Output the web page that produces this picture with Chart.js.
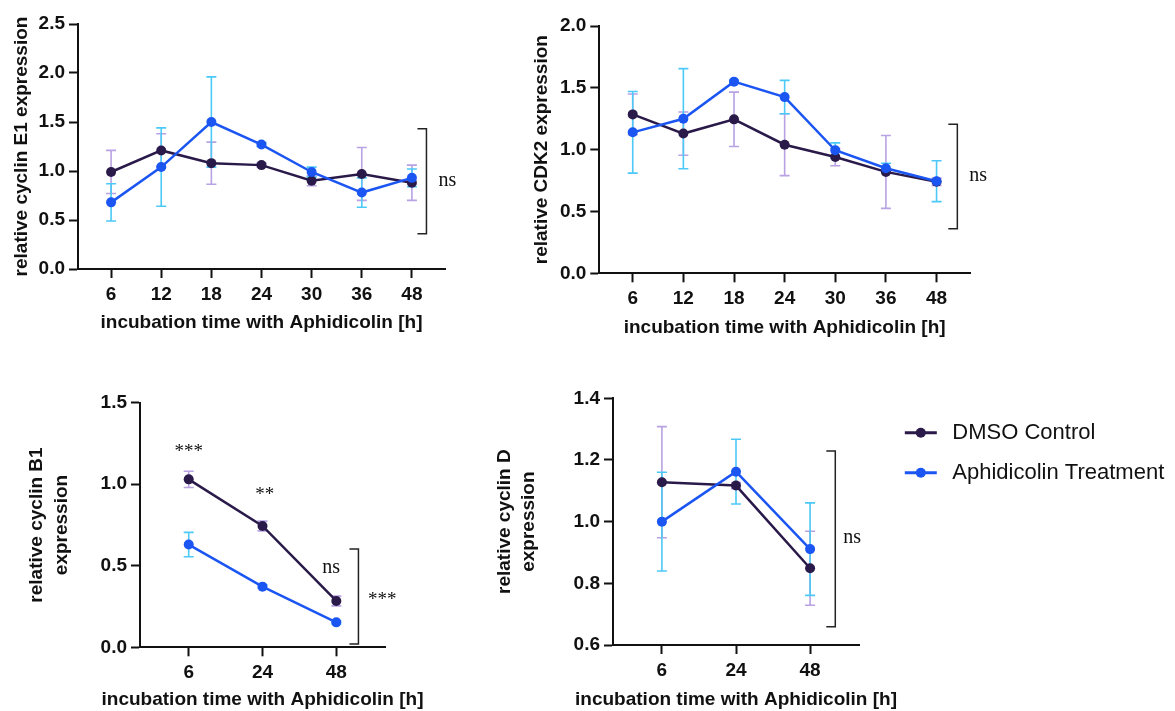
<!DOCTYPE html>
<html>
<head>
<meta charset="utf-8">
<script src="https://cdn.jsdelivr.net/npm/chart.js@4.4.1/dist/chart.umd.min.js"></script>
<style>
  body { margin: 0; background: #fff; }
  #wrap { position: relative; width: 1175px; height: 711px; overflow: hidden; }
  canvas { position: absolute; }
</style>
</head>
<body>
<div id="wrap">
  <canvas id="chartE1" width="470" height="340" style="left:0px;top:0px"></canvas>
  <canvas id="chartCdk2" width="500" height="345" style="left:500px;top:0px"></canvas>
  <canvas id="chartB1" width="480" height="341" style="left:0px;top:370px"></canvas>
  <canvas id="chartD" width="695" height="341" style="left:480px;top:370px"></canvas>
</div>
<script>
// Dati
const seriesNames = ['DMSO Control', 'Aphidicolin Treatment'];
const timesLong = ['6', '12', '18', '24', '30', '36', '48'];
const timesShort = ['6', '24', '48'];
const xTitle = 'incubation time with Aphidicolin [h]';

// cyclin E1
const e1Dmso = [0.99, 1.21, 1.08, 1.06, 0.90, 0.97, 0.88];
const e1DmsoSd = [0.22, 0.17, 0.215, 0.02, 0.05, 0.27, 0.18];
const e1Aph = [0.68, 1.04, 1.50, 1.27, 0.99, 0.78, 0.93];
const e1AphSd = [0.19, 0.40, 0.46, 0.02, 0.05, 0.15, 0.09];
const e1Ticks = [0, 0.5, 1.0, 1.5, 2.0, 2.5];

// CDK2
const cdk2Dmso = [1.285, 1.13, 1.245, 1.04, 0.94, 0.82, 0.74];
const cdk2DmsoSd = [0.165, 0.175, 0.22, 0.25, 0.07, 0.295, 0.03];
const cdk2Aph = [1.14, 1.25, 1.55, 1.425, 0.995, 0.85, 0.745];
const cdk2AphSd = [0.33, 0.405, 0.01, 0.135, 0.06, 0.04, 0.165];
const cdk2Ticks = [0, 0.5, 1.0, 1.5, 2.0];

// cyclin B1
const b1Dmso = [1.03, 0.744, 0.284];
const b1DmsoSd = [0.05, 0.03, 0.03];
const b1Aph = [0.63, 0.372, 0.153];
const b1AphSd = [0.075, 0.01, 0.01];
const b1Ticks = [0, 0.5, 1.0, 1.5];

// cyclin D
const dDmso = [1.128, 1.117, 0.849];
const dDmsoSd = [0.18, 0.01, 0.12];
const dAph = [1.0, 1.162, 0.911];
const dAphSd = [0.16, 0.105, 0.15];
const dTicks = [0.6, 0.8, 1.0, 1.2, 1.4];

// Colori
const dmsoColor = '#2a1a4a';
const dmsoErrColor = '#b8a2e3';
const aphColor = '#1c56f2';
const aphErrColor = '#4cc9f6';
const inkColor = '#111111';

const sansFamily = '"Liberation Sans", Arial, Helvetica, sans-serif';
const serifFamily = '"Liberation Serif", "Times New Roman", serif';
const axisFont = { family: sansFamily, size: 19, weight: 'bold', lineHeight: 1.2 };

// Plugin: barre d'errore, titolo asse x, parentesi di significatività, legenda
const extrasPlugin = {
    id: 'extras',
    beforeDatasetsDraw(chart) {
        const ctx = chart.ctx;
        const yScale = chart.scales.y;
        chart.data.datasets.forEach((ds, di) => {
            if (!ds.errors) return;
            const meta = chart.getDatasetMeta(di);
            ctx.save();
            ctx.strokeStyle = ds.errorColor;
            ctx.lineWidth = 1.6;
            meta.data.forEach((pt, i) => {
                const v = ds.data[i].y;
                const e = ds.errors[i];
                const top = yScale.getPixelForValue(v + e);
                const bot = yScale.getPixelForValue(v - e);
                ctx.beginPath();
                ctx.moveTo(pt.x, top); ctx.lineTo(pt.x, bot);
                ctx.moveTo(pt.x - 5, top); ctx.lineTo(pt.x + 5, top);
                ctx.moveTo(pt.x - 5, bot); ctx.lineTo(pt.x + 5, bot);
                ctx.stroke();
            });
            ctx.restore();
        });
    },
    afterDraw(chart, args, opts) {
        const ctx = chart.ctx;
        const xs = chart.scales.x, ys = chart.scales.y;
        const area = chart.chartArea;
        const drawMark = (text, x, y, align) => {
            const stars = text.indexOf('*') >= 0;
            ctx.font = (stars ? '19px ' : '20px ') + serifFamily;
            ctx.fillStyle = inkColor;
            ctx.textAlign = align;
            ctx.textBaseline = 'middle';
            ctx.fillText(text, x, y + (stars ? 4 : -1));
        };
        ctx.save();
        // titolo asse x (più largo dell'area del grafico, quindi disegnato qui)
        if (opts.xTitle) {
            ctx.font = 'bold 19px ' + sansFamily;
            ctx.fillStyle = inkColor;
            ctx.textAlign = 'center';
            ctx.textBaseline = 'middle';
            ctx.fillText(opts.xTitle, (area.left + area.right) / 2, chart.height - opts.xTitleOffset);
        }
        (opts.brackets || []).forEach(b => {
            const x = xs.getPixelForValue(b.x);
            const t = ys.getPixelForValue(b.top);
            const bt = ys.getPixelForValue(b.bottom);
            ctx.strokeStyle = '#222';
            ctx.lineWidth = 1.5;
            ctx.beginPath();
            ctx.moveTo(x - 9, t); ctx.lineTo(x, t); ctx.lineTo(x, bt); ctx.lineTo(x - 9, bt);
            ctx.stroke();
            drawMark(b.text, x + b.gap, (t + bt) / 2, 'left');
        });
        (opts.labels || []).forEach(l => {
            drawMark(l.text, xs.getPixelForValue(l.x), ys.getPixelForValue(l.y), 'center');
        });
        if (opts.legend) {
            const lg = opts.legend;
            chart.data.datasets.forEach((ds, i) => {
                const y = lg.y + i * lg.rowGap;
                ctx.strokeStyle = ds.borderColor;
                ctx.lineWidth = 3;
                ctx.beginPath();
                ctx.moveTo(lg.x, y); ctx.lineTo(lg.x + 32, y);
                ctx.stroke();
                ctx.fillStyle = ds.borderColor;
                ctx.beginPath();
                ctx.arc(lg.x + 16, y, 5, 0, Math.PI * 2);
                ctx.fill();
                ctx.font = '22px ' + sansFamily;
                ctx.fillStyle = inkColor;
                ctx.textAlign = 'left';
                ctx.textBaseline = 'middle';
                ctx.fillText(ds.label, lg.x + 47.5, y);
            });
        }
        ctx.restore();
    }
};

function series(label, values, errors, color, errColor, order) {
    return {
        label: label,
        data: values.map((v, i) => ({ x: i, y: v })),
        errors: errors,
        errorColor: errColor,
        borderColor: color,
        backgroundColor: color,
        borderWidth: 2.5,
        pointRadius: 5,
        pointBorderWidth: 0,
        pointBackgroundColor: color,
        tension: 0,
        order: order
    };
}

function makeChart(id, cfg) {
    const axisLine = { color: inkColor, width: 2 };
    const tickGrid = { drawOnChartArea: false, tickLength: 9, tickWidth: 2, tickColor: inkColor };
    const extras = Object.assign({ xTitle: xTitle, xTitleOffset: cfg.xTitleOffset }, cfg.extras);
    new Chart(document.getElementById(id), {
        type: 'line',
        data: {
            datasets: [
                series(seriesNames[0], cfg.dmso, cfg.dmsoSd, dmsoColor, dmsoErrColor, 1),
                series(seriesNames[1], cfg.aph, cfg.aphSd, aphColor, aphErrColor, 0)
            ]
        },
        options: {
            responsive: false,
            animation: false,
            layout: { padding: cfg.padding },
            plugins: {
                legend: { display: false },
                tooltip: { enabled: false },
                extras: extras
            },
            scales: {
                x: {
                    type: 'linear',
                    min: -0.66,
                    max: cfg.labels.length - 1 + 0.66,
                    afterBuildTicks: s => { s.ticks = cfg.labels.map((_, i) => ({ value: i })); },
                    afterFit: s => { s.height = cfg.xHeight; },
                    ticks: {
                        font: axisFont, color: inkColor, padding: 5,
                        maxRotation: 0, autoSkip: false,
                        callback: v => cfg.labels[v]
                    },
                    grid: tickGrid,
                    border: axisLine,
                    title: { display: false }
                },
                y: {
                    min: cfg.yTicks[0],
                    max: cfg.yTicks[cfg.yTicks.length - 1],
                    afterBuildTicks: s => { s.ticks = cfg.yTicks.map(v => ({ value: v })); },
                    afterFit: s => { s.width = cfg.yWidth; },
                    ticks: {
                        font: axisFont, color: inkColor, padding: 4,
                        callback: v => Number(v).toFixed(1)
                    },
                    grid: tickGrid,
                    border: axisLine,
                    title: {
                        display: true, text: cfg.yTitle,
                        font: Object.assign({}, axisFont, { lineHeight: cfg.yLineHeight || 1.2 }),
                        color: inkColor,
                        padding: { top: cfg.yTitlePad, bottom: 0 }
                    }
                }
            }
        },
        plugins: [extrasPlugin]
    });
}

makeChart('chartE1', {
    labels: timesLong, dmso: e1Dmso, dmsoSd: e1DmsoSd, aph: e1Aph, aphSd: e1AphSd, yTicks: e1Ticks,
    yTitle: 'relative cyclin E1 expression',
    padding: { top: 24, right: 25, bottom: 0, left: 0 },
    yWidth: 78, xHeight: 71, yTitlePad: 10.6, xTitleOffset: 17,
    extras: { brackets: [{ x: 6.29, top: 1.43, bottom: 0.36, text: 'ns', gap: 12 }] }
});

makeChart('chartCdk2', {
    labels: timesLong, dmso: cdk2Dmso, dmsoSd: cdk2DmsoSd, aph: cdk2Aph, aphSd: cdk2AphSd, yTicks: cdk2Ticks,
    yTitle: 'relative CDK2 expression',
    padding: { top: 26, right: 30, bottom: 0, left: 0 },
    yWidth: 99.3, xHeight: 71.7, yTitlePad: 30.3, xTitleOffset: 17,
    extras: { brackets: [{ x: 6.41, top: 1.205, bottom: 0.36, text: 'ns', gap: 12 }] }
});

makeChart('chartB1', {
    labels: timesShort, dmso: b1Dmso, dmsoSd: b1DmsoSd, aph: b1Aph, aphSd: b1AphSd, yTicks: b1Ticks,
    yTitle: ['relative cyclin B1', 'expression'], yLineHeight: 1.3,
    padding: { top: 32.7, right: 95, bottom: 0, left: 0 },
    yWidth: 140, xHeight: 63.7, yTitlePad: 24.3, xTitleOffset: 11,
    extras: {
        brackets: [{ x: 2.30, top: 0.603, bottom: 0.02, text: '***', gap: 9.5 }],
        labels: [
            { x: 0, y: 1.22, text: '***' },
            { x: 1.03, y: 0.958, text: '**' },
            { x: 1.93, y: 0.484, text: 'ns' }
        ]
    }
});

makeChart('chartD', {
    labels: timesShort, dmso: dDmso, dmsoSd: dDmsoSd, aph: dAph, aphSd: dAphSd, yTicks: dTicks,
    yTitle: ['relative cyclin D', 'expression'], yLineHeight: 1.3,
    padding: { top: 28.3, right: 316, bottom: 0, left: 0 },
    yWidth: 133, xHeight: 66, yTitlePad: 12, xTitleOffset: 11,
    extras: {
        brackets: [{ x: 2.34, top: 1.229, bottom: 0.659, text: 'ns', gap: 8 }],
        legend: { x: 424.8, y: 62.7, rowGap: 40 }
    }
});
</script>
</body>
</html>
